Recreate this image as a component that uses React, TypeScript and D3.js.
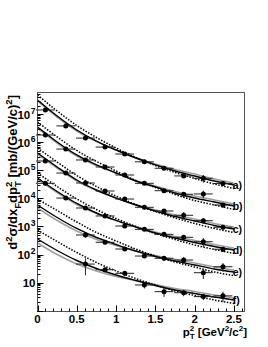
import * as d3 from 'd3';

// measured points: pT^2 bin centres
const PT2 = [0.1, 0.36, 0.61, 0.86, 1.11, 1.36, 1.61, 1.86, 2.11, 2.36];
const PT2_TAIL = [0.61, 0.86, 1.11, 1.36, 1.61, 1.86, 2.11, 2.36];
const PT2_HALF = 0.12;

const SET_A = [1.4e7, 3.8e6, 1.4e6, 6.7e5, 3.8e5, 2.0e5, 1.18e5, 6.3e4, 5.2e4, 3.4e4];
const SET_B = [1.8e6, 5.7e5, 2.33e5, 1.31e5, 6.8e4, 3.44e4, 1.88e4, 1.4e4, 1.44e4, 5.8e3];
const SET_C = [2.14e5, 8.0e4, 3.53e4, 1.83e4, 9.5e3, 4.82e3, 3.56e3, 2.51e3, 1.61e3, 9.4e2];
const SET_D = [3.44e4, 1.03e4, 4.55e3, 2.37e3, 1.04e3, 7.9e2, 5.27e2, 4.13e2, 2.88e2, 1.55e2];
const SET_E = [499, 274, 158, 89, 74, 64, 22.7, 37];
const SET_F = [46, 29, 21.6, 8.3, 4.8, 4.4, 3.2, 3.4];

// relative y errors
const ERR_A = [0.1, 0.08, 0.08, 0.08, 0.1, 0.1, 0.12, 0.15, 0.3, 0.2];
const ERR_B = [0.15, 0.1, 0.08, 0.1, 0.1, 0.1, 0.12, 0.15, 0.3, 0.2];
const ERR_C = [0.1, 0.1, 0.1, 0.1, 0.1, 0.12, 0.15, 0.3, 0.2, 0.15];
const ERR_D = [0.15, 0.1, 0.1, 0.1, 0.12, 0.12, 0.15, 0.2, 0.35, 0.2];
const ERR_E = [0.2, 0.15, 0.15, 0.15, 0.2, 0.25, 0.4, 0.35];
const ERR_F = [0.6, 0.2, 0.2, 0.25, 0.35, 0.25, 0.25, 0.4];

// model curves sampled on a grid
const GRID = [0, 0.25, 0.5, 0.75, 1.0, 1.25, 1.5, 1.75, 2.0, 2.25, 2.5];

const SOLID_A = [3.18e7, 8.55e6, 2.72e6, 1.1e6, 5.27e5, 2.74e5, 1.55e5, 9.44e4, 6.27e4, 4.16e4, 3.0e4];
const SOLID_B = [3.48e6, 1.02e6, 3.51e5, 1.55e5, 8.02e4, 4.16e4, 2.55e4, 1.56e4, 1.03e4, 7.45e3, 5.37e3];
const SOLID_C = [4.13e5, 1.31e5, 4.52e4, 1.99e4, 1.03e4, 5.82e3, 3.56e3, 2.27e3, 1.57e3, 1.09e3, 815];
const SOLID_D = [5.32e4, 1.76e4, 6.59e3, 3.02e3, 1.64e3, 959, 587, 390, 270, 194, 146];
const SOLID_E = [5.82e3, 2.09e3, 849, 406, 229, 134, 85.5, 59.2, 42.7, 30.7, 24.0];
const SOLID_F = [359, 140, 61.7, 32.0, 18.8, 12.0, 7.94, 5.5, 4.13, 3.1, 2.42];

const DOTTED_A = [4.79e7, 1.29e7, 3.93e6, 1.47e6, 6.21e5, 2.86e5, 1.49e5, 8.35e4, 5.11e4, 3.25e4, 2.25e4];
const DOTTED_B = [5.24e6, 1.54e6, 5.07e5, 2.07e5, 9.45e4, 4.33e4, 2.45e4, 1.38e4, 8.39e3, 5.83e3, 4.03e3];
const DOTTED_C = [6.22e5, 1.97e5, 6.53e4, 2.65e4, 1.21e4, 6.06e3, 3.41e3, 2.01e3, 1.28e3, 852, 611];
const DOTTED_D = [8.02e4, 2.65e4, 9.52e3, 4.03e3, 1.93e3, 999, 563, 345, 220, 152, 110];
const DOTTED_E = [9.53e3, 3.71e3, 1.445e3, 612, 305, 158, 89.1, 54.5, 36.3, 24.0, 18.0];
const DOTTED_F = [750, 292, 119, 52.4, 26.1, 14.1, 8.27, 5.06, 3.51, 2.42, 1.82];

const GREY_A = [2.93e7, 7.87e6, 2.5e6, 1.05e6, 5.27e5, 2.86e5, 1.68e5, 1.07e5, 7.39e4, 4.9e4, 3.53e4];
const GREY_B = [3.2e6, 9.38e5, 3.23e5, 1.49e5, 8.02e4, 4.33e4, 2.77e4, 1.76e4, 1.21e4, 8.78e3, 6.33e3];
const GREY_C = [3.8e5, 1.21e5, 4.16e4, 1.91e4, 1.03e4, 6.06e3, 3.87e3, 2.57e3, 1.85e3, 1.28e3, 960];
const GREY_D = [4.89e4, 1.62e4, 6.06e3, 2.9e3, 1.64e3, 999, 637, 441, 318, 229, 172];
const GREY_E = [4.55e3, 1.63e3, 692, 345, 211, 134, 92.9, 66.9, 50.3, 36.2, 28.3];
const GREY_F = [259, 101, 46.3, 26.1, 16.6, 12.0, 8.62, 6.22, 4.87, 3.65, 2.85];

const LABELS = ['a)', 'b)', 'c)', 'd)', 'e)', 'f)'];
const X_TICKS = [0, 0.5, 1, 1.5, 2, 2.5];
const Y_DECADES = [1, 2, 3, 4, 5, 6, 7];

const series = [
  { x: PT2, y: SET_A, err: ERR_A, solid: SOLID_A, dotted: DOTTED_A, grey: GREY_A },
  { x: PT2, y: SET_B, err: ERR_B, solid: SOLID_B, dotted: DOTTED_B, grey: GREY_B },
  { x: PT2, y: SET_C, err: ERR_C, solid: SOLID_C, dotted: DOTTED_C, grey: GREY_C },
  { x: PT2, y: SET_D, err: ERR_D, solid: SOLID_D, dotted: DOTTED_D, grey: GREY_D },
  { x: PT2_TAIL, y: SET_E, err: ERR_E, solid: SOLID_E, dotted: DOTTED_E, grey: GREY_E },
  { x: PT2_TAIL, y: SET_F, err: ERR_F, solid: SOLID_F, dotted: DOTTED_F, grey: GREY_F },
];

const FONT = '"Liberation Sans", Arial, Helvetica, sans-serif';
const FRAME = { left: 37.5, right: 244.5, top: 92.5, bottom: 311.5 };

export default function App() {
  const x = d3.scaleLinear().domain([0, 2.634]).range([FRAME.left, FRAME.right]);
  const y = d3.scaleLog().domain([0.944, 5.87e7]).range([FRAME.bottom, FRAME.top]);

  const line = d3.line<number>()
    .x((_, i) => x(GRID[i]))
    .y(d => y(d))
    .curve(d3.curveMonotoneX);

  const xMinor = d3.range(0, 2.61, 0.1);
  const yMinor: number[] = [];
  for (let e = 0; e <= 7; e++) {
    for (let m = 1; m <= 9; m++) {
      const v = m * Math.pow(10, e);
      if (v >= 0.944 && v <= 5.87e7) yMinor.push(v);
    }
  }

  return (
    <svg width={268} height={347} style={{ position: 'absolute', left: 0, top: 0, background: '#fff' }}
      fontFamily={FONT}>
      <defs>
        <clipPath id="plot">
          <rect x={FRAME.left} y={FRAME.top} width={FRAME.right - FRAME.left} height={FRAME.bottom - FRAME.top} />
        </clipPath>
      </defs>

      {/* model curves */}
      <g clipPath="url(#plot)" fill="none">
        {series.map((s, i) => (
          <g key={i}>
            <path d={line(s.grey) ?? ''} stroke="#a0a0a0" strokeWidth={1.6} />
            <path d={line(s.solid) ?? ''} stroke="#000" strokeWidth={1.4} />
            <path d={line(s.dotted) ?? ''} stroke="#000" strokeWidth={1.5} strokeDasharray="1.5,1.5" />
          </g>
        ))}
      </g>

      {/* data points */}
      <g>
        {series.map((s, i) => (
          <g key={i}>
            {s.y.map((v, j) => {
              const cx = x(s.x[j]);
              const cy = y(v);
              return (
                <g key={j}>
                  <line x1={x(s.x[j] - PT2_HALF)} x2={x(s.x[j] + PT2_HALF)} y1={cy} y2={cy} stroke="#222" strokeWidth={1} />
                  <line x1={cx} x2={cx} y1={y(v * (1 + s.err[j]))} y2={y(Math.max(v * (1 - s.err[j]), 0.95))} stroke="#222" strokeWidth={1} />
                  <circle cx={cx} cy={cy} r={2.5} fill="#000" />
                </g>
              );
            })}
            <text x={x(s.x[s.x.length - 1] + PT2_HALF) + 0.3} y={y(s.solid[s.solid.length - 1])} dy="0.35em"
              fontSize={10.5} fontWeight="bold" fill="#000">{LABELS[i]}</text>
          </g>
        ))}
      </g>

      {/* frame */}
      <rect x={FRAME.left} y={FRAME.top} width={FRAME.right - FRAME.left} height={FRAME.bottom - FRAME.top}
        fill="none" stroke="#555" strokeWidth={1} />

      {/* ticks */}
      <g stroke="#000" strokeWidth={1}>
        {xMinor.map((t, i) => (
          <line key={i} x1={Math.round(x(t)) + 0.5} x2={Math.round(x(t)) + 0.5} y1={FRAME.bottom} y2={FRAME.bottom - 3} />
        ))}
        {X_TICKS.map(t => (
          <line key={t} x1={Math.round(x(t)) + 0.5} x2={Math.round(x(t)) + 0.5} y1={FRAME.bottom} y2={FRAME.bottom - 6} />
        ))}
        {yMinor.map((v, i) => (
          <line key={i} x1={FRAME.left} x2={FRAME.left + 3} y1={Math.round(y(v)) + 0.5} y2={Math.round(y(v)) + 0.5} />
        ))}
        {[0, ...Y_DECADES].map(e => (
          <line key={e} x1={FRAME.left} x2={FRAME.left + 6} y1={Math.round(y(Math.pow(10, e))) + 0.5} y2={Math.round(y(Math.pow(10, e))) + 0.5} />
        ))}
      </g>

      {/* tick labels */}
      <g fontSize={11.5} fontWeight="bold" fill="#000">
        {X_TICKS.map(t => (
          <text key={t} x={x(t)} y={323} textAnchor="middle">{String(t)}</text>
        ))}
        {Y_DECADES.map(e => (
          <text key={e} x={35.5} y={y(Math.pow(10, e)) + 4.5} textAnchor="end">
            10{e > 1 && <tspan fontSize={8.5} dx={0.5} dy={-5}>{String(e)}</tspan>}
          </text>
        ))}
      </g>

      {/* axis titles */}
      <text x={247} y={336} textAnchor="end" fontSize={11.5} fontWeight="bold">
        p<tspan fontSize={8} dy={-5}>2</tspan><tspan fontSize={8} dx={-4.5} dy={8}>T</tspan>
        <tspan dy={-3}> [GeV</tspan><tspan fontSize={8} dy={-5}>2</tspan>
        <tspan dy={5}>/c</tspan><tspan fontSize={8} dy={-5}>2</tspan><tspan dy={5}>]</tspan>
      </text>
      <text transform="translate(17,95) rotate(-90)" textAnchor="end" fontSize={13} fontWeight="bold">
        d<tspan fontSize={9.5} dy={-5.5}>2</tspan><tspan dy={5.5}>σ/dx</tspan><tspan fontSize={9.5} dy={3.5}>F</tspan>
        <tspan dy={-3.5}>dp</tspan><tspan fontSize={9.5} dy={-5.5}>2</tspan><tspan fontSize={9.5} dx={-5.3} dy={9}>T</tspan>
        <tspan dy={-3.5}> [mb/(GeV/c)</tspan><tspan fontSize={9.5} dy={-5.5}>2</tspan><tspan dy={5.5}>]</tspan>
      </text>
    </svg>
  );
}
